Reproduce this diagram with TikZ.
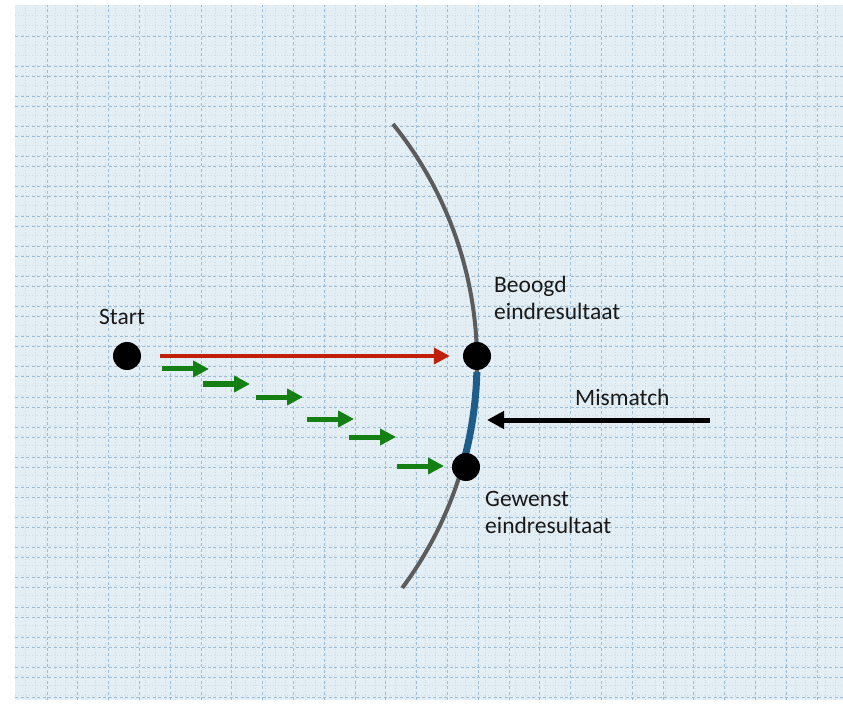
\documentclass[tikz,border=0pt]{standalone}
\usepackage{fontspec}
\setmainfont{Carlito}
\usetikzlibrary{arrows.meta}
\definecolor{paper}{RGB}{228,238,245}
\definecolor{gridmajor}{RGB}{156,189,214}
\definecolor{gridminor}{RGB}{204,220,233}
\definecolor{curvegray}{RGB}{92,92,92}
\definecolor{mismatchblue}{RGB}{30,92,138}
\definecolor{directred}{RGB}{192,32,10}
\definecolor{stepgreen}{RGB}{20,128,20}

\begin{document}
\begin{tikzpicture}[x=1pt,y=1pt,
	dot/.style={circle,fill=black,inner sep=0pt,minimum size=28pt},
	lbl/.style={font=\fontsize{23.5}{27}\selectfont,text=black!90,inner sep=0pt,align=left},
	directarrow/.style={draw=directred,line width=4pt,-{Triangle[length=16pt,width=16pt]}},
	steparrow/.style={draw=stepgreen,line width=5pt,-{Triangle[length=16pt,width=16pt]}},
	mismatcharrow/.style={draw=black,line width=5pt,-{Triangle[length=17pt,width=17pt]}},
	minorline/.style={gridminor,line width=0.8pt,dotted},
	majorline/.style={gridmajor,line width=1pt,dash pattern=on 3pt off 2.5pt},
]
	\useasboundingbox (0,0) rectangle (843,705);
	
	% graph paper
	\fill[paper] (15,5) rectangle (843,700);
	\foreach \x in {25,35,...,835} {
		\draw[minorline] (\x,5) -- (\x,700);
	}
	\foreach \y in {10,20,...,690} {
		\draw[minorline] (15,\y) -- (843,\y);
	}
	\foreach \k in {0,...,25} {
		\draw[majorline] (47+30.8*\k,5) -- (47+30.8*\k,700);
	}
	\foreach \k in {0,...,22} {
		\draw[majorline] (15,668-30*\k) -- (843,668-30*\k);
	}
	\foreach \k in {0,...,20} {
		\draw[majorline] (15,628-30*\k) -- (843,628-30*\k);
	}
	
	% target curve and mismatch
	\draw[curvegray,line width=4pt] (98,343) ++(38.9:379) arc[start angle=38.9,end angle=-36.6,radius=379];
	\draw[mismatchblue,line width=7pt] (98,343) ++(-1.5:379) arc[start angle=-1.5,end angle=-15.9,radius=379];
	
	\node[dot] (start) at (127,349) {};
	\node[dot] (beoogd) at (477,349) {};
	\node[dot] (gewenst) at (466,238) {};
	
	\node[lbl,anchor=base west] (startlbl) at (99,380) {Start};
	\node[lbl,anchor=north west] (beoogdlbl) at (494,429) {Beoogd\\eindresultaat};
	\node[lbl,anchor=north west] (gewenstlbl) at (485,214) {Gewenst\\eindresultaat};
	\node[lbl,anchor=base west] (mismatchlbl) at (575,300) {Mismatch};
	
	\draw[directarrow,shorten <=19pt,shorten >=13pt] (start) -- (beoogd);
	
	\foreach \i/\x/\y in {1/162/336, 2/203/321, 3/256/308, 4/307/286, 5/349/268, 6/397/239} {
		\coordinate (step\i) at (\x,\y);
		\draw[steparrow] (step\i) -- ++(47,0);
	}
	
	\coordinate (mismatchtail) at (710,285);
	\coordinate (mismatchtip) at (487,285);
	\draw[mismatcharrow] (mismatchtail) -- (mismatchtip);
\end{tikzpicture}
\end{document}
